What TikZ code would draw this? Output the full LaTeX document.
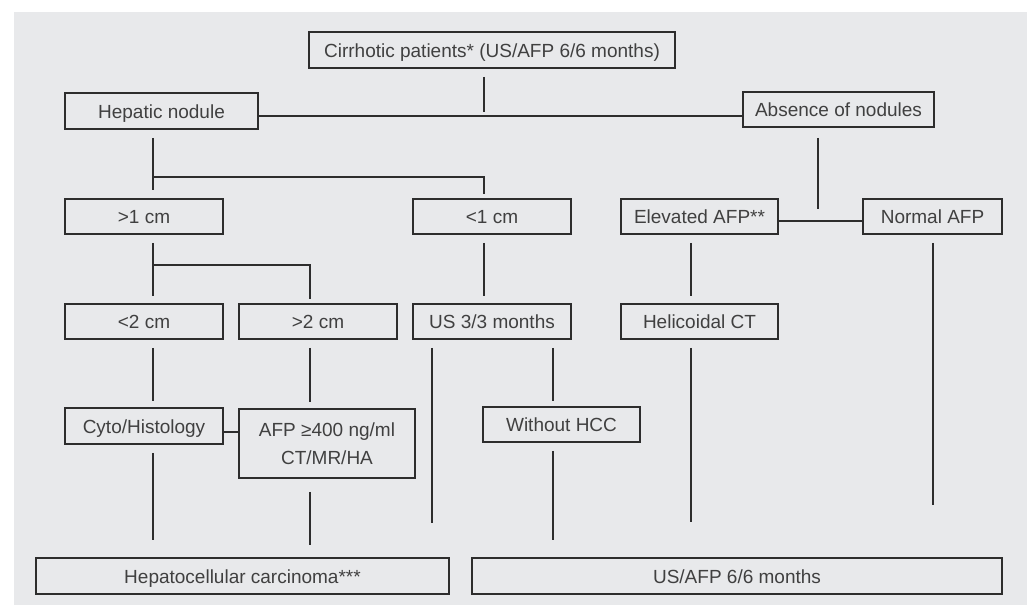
\documentclass[tikz,border=0pt]{standalone}
\usepackage{fontspec}
\setmainfont{Liberation Sans}
\usepackage{tikz}
\usetikzlibrary{positioning,calc}
\definecolor{PanelGray}{RGB}{232,233,235}
\definecolor{InkGray}{RGB}{45,45,45}
\definecolor{TextGray}{RGB}{64,64,64}
\tikzset{
  boxbase/.style={draw=InkGray,line width=1.6pt,fill=PanelGray,inner sep=0pt,
    text=TextGray,font=\fontsize{19}{28}\selectfont,align=center},
  box/.style={boxbase,text height=14pt,text depth=0pt},
  link/.style={draw=InkGray,line width=2pt},
}

\begin{document}
\begin{tikzpicture}[x=1pt,y=-1pt]
\useasboundingbox (0,0) rectangle (1027,605);
\fill[PanelGray] (14,12) rectangle (1027,605);
% boxes
\node[box,minimum width=366pt,minimum height=36pt] (top) at (492,50) {Cirrhotic patients* (US/AFP 6/6 months)};
\node[box,minimum width=193pt,minimum height=36pt] (hep) at (161.5,111) {Hepatic nodule};
\node[box,minimum width=191pt,minimum height=35pt] (abs) at (838.5,109.5) {Absence of nodules};
\node[box,minimum width=158pt,minimum height=35pt] (gt1) at (144,216.5) {>1 cm};
\node[box,minimum width=158pt,minimum height=35pt] (lt1) at (492,216.5) {<1 cm};
\node[box,minimum width=157pt,minimum height=35pt] (elev) at (699.5,216.5) {Elevated AFP**};
\node[box,minimum width=139pt,minimum height=35pt] (norm) at (932.5,216.5) {Normal AFP};
\node[box,minimum width=158pt,minimum height=35pt] (lt2) at (144,321.5) {<2 cm};
\node[box,minimum width=158pt,minimum height=35pt] (gt2) at (318,321.5) {>2 cm};
\node[box,minimum width=158pt,minimum height=35pt] (us3) at (492,321.5) {US 3/3 months};
\node[box,minimum width=157pt,minimum height=35pt] (heli) at (699.5,321.5) {Helicoidal CT};
\node[box,minimum width=158pt,minimum height=36pt] (cyto) at (144,426) {Cyto/Histology};
\node[boxbase,minimum width=176pt,minimum height=69pt] (afp) at (327,443.5) {AFP ≥400 ng/ml\\CT/MR/HA};
\node[box,minimum width=157pt,minimum height=35pt] (without) at (561.5,424.5) {Without HCC};
\node[box,minimum width=413pt,minimum height=36pt] (hcc) at (242.5,576) {Hepatocellular carcinoma***};
\node[box,minimum width=530pt,minimum height=36pt] (usafp) at (737,576) {US/AFP 6/6 months};
% junctions and columns
\coordinate (j0) at (484,116);
\coordinate (j1) at (153,177);
\coordinate (j2) at (153,265);
\coordinate (k2) at (310,265);
\coordinate (j3) at (818,221);
\coordinate (j4) at (231,432);
\coordinate (cA) at (432,347);
\coordinate (cB) at (553,347);
\coordinate (cC) at (691,347);
\coordinate (cD) at (933,347);
% connectors
\draw[link,shorten <=8pt,shorten >=4pt] (top.south -| j0) -- (j0);
\draw[link] (hep.east |- j0) -- (abs.west |- j0);
\draw[link,shorten <=8pt,shorten >=8pt] (hep.south -| j1) -- (gt1.north -| j1);
\draw[link,shorten >=4pt] (j1) -| (lt1.north -| j0);
\draw[link,shorten <=8pt,shorten >=7pt] (gt1.south -| j2) -- (lt2.north -| j2);
\draw[link,shorten >=4pt] (j2) -- (k2) -- (gt2.north -| k2);
\draw[link,shorten <=8pt,shorten >=7pt] (lt1.south -| j0) -- (us3.north -| j0);
\draw[link,shorten <=10pt,shorten >=12pt] (abs.south -| j3) -- (j3);
\draw[link] (elev.east |- j3) -- (norm.west |- j3);
\draw[link,shorten <=8pt,shorten >=7pt] (elev.south -| cC) -- (heli.north -| cC);
\draw[link,shorten <=8pt,shorten >=6pt] (lt2.south -| j2) -- (cyto.north -| j2);
\draw[link,shorten <=8pt,shorten >=6pt] (gt2.south -| k2) -- (afp.north -| k2);
\draw[link,shorten <=8pt,shorten >=34pt] (us3.south -| cA) -- (hcc.north -| cA);
\draw[link,shorten <=8pt,shorten >=5pt] (us3.south -| cB) -- (without.north -| cB);
\draw[link] (cyto.east |- j4) -- (afp.west |- j4);
\draw[link,shorten <=8pt,shorten >=17pt] (cyto.south -| j2) -- (hcc.north -| j2);
\draw[link,shorten <=13pt,shorten >=12pt] (afp.south -| k2) -- (hcc.north -| k2);
\draw[link,shorten <=8pt,shorten >=17pt] (without.south -| cB) -- (usafp.north -| cB);
\draw[link,shorten <=8pt,shorten >=35pt] (heli.south -| cC) -- (usafp.north -| cC);
\draw[link,shorten <=8pt,shorten >=52pt] (norm.south -| cD) -- (usafp.north -| cD);
\end{tikzpicture}
\end{document}
